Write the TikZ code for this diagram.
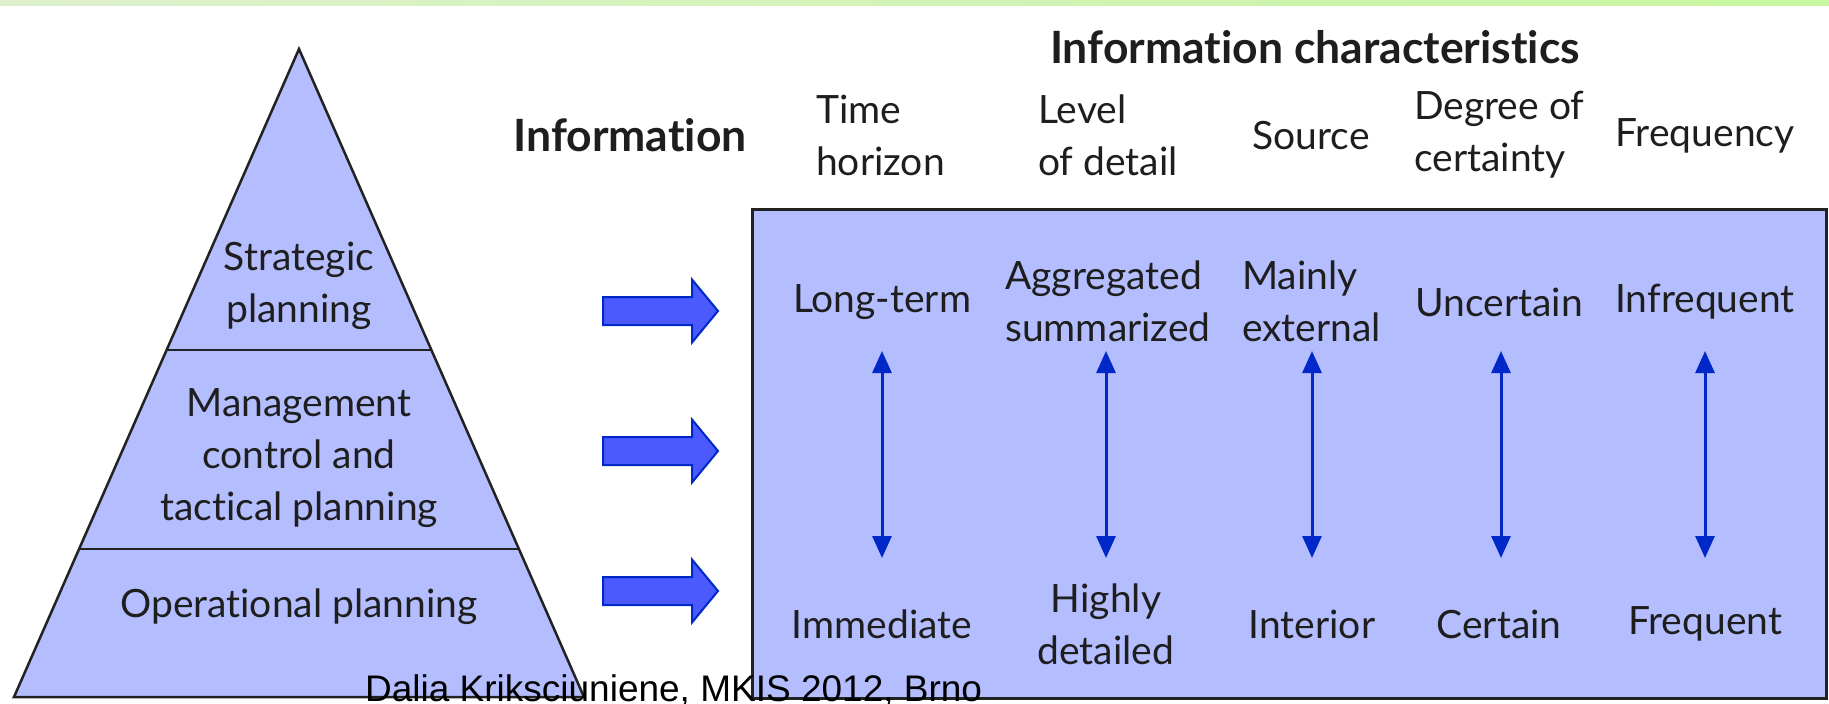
\documentclass[tikz,border=0pt]{standalone}
\usepackage{fontspec}
\setmainfont{Lato}[Ligatures=NoCommon]
\newfontfamily\footfont{Liberation Sans}
\usetikzlibrary{calc,arrows.meta}

\definecolor{panelfill}{RGB}{180,190,255}
\definecolor{edgegray}{RGB}{34,34,34}
\definecolor{txt}{RGB}{30,30,30}
\definecolor{arrowblue}{RGB}{0,40,200}
\definecolor{blockfill}{RGB}{74,90,255}
\definecolor{bandleft}{RGB}{222,240,205}
\definecolor{bandright}{RGB}{198,246,160}

\tikzset{
  lbl/.style={text=txt, inner sep=0pt, font=\fontsize{39}{52}\selectfont},
  head/.style={lbl, font=\fontsize{44.5}{52}\selectfont\bfseries},
  dblarrow/.style={draw=arrowblue, line width=3pt,
    {Triangle[width=19pt,length=22pt]}-{Triangle[width=19pt,length=22pt]}},
  blockarrow/.pic={
    \filldraw[fill=blockfill, draw=arrowblue, line width=2pt, line join=miter]
      (0,-14) -- (89,-14) -- (89,-31.5) -- (115,0) -- (89,31.5)
      -- (89,14) -- (0,14) -- cycle;
  }
}

\begin{document}
\begin{tikzpicture}[x=1pt, y=-1pt]
\useasboundingbox (0,0) rectangle (1829,704);

% light green band along the top edge
\shade[left color=bandleft, right color=bandright] (0,0) rectangle (1829,5);

% planning pyramid
\coordinate (apex) at (299,49);
\coordinate (bl) at (14,697);
\coordinate (br) at (584,697);
\filldraw[fill=panelfill, draw=edgegray, line width=2.5pt, line join=miter]
  (apex) -- (br) -- (bl) -- cycle;
\draw[edgegray, line width=2pt]
  ($(apex)!0.4645!(bl)$) -- ($(apex)!0.4645!(br)$);
\draw[edgegray, line width=2pt]
  ($(apex)!0.7716!(bl)$) -- ($(apex)!0.7716!(br)$);

\node[lbl, align=center] (strat) at (299,286) {Strategic\\planning};
\node[lbl, align=center] (mgmt) at (299,458) {Management\\control and\\tactical planning};
\node[lbl, align=center] (oper) at (299,607) {Operational planning};

% block arrows between the levels and the panel
\pic at (603,311) {blockarrow};
\pic at (603,451) {blockarrow};
\pic at (603,591) {blockarrow};

% characteristics panel
\filldraw[fill=panelfill, draw=edgegray, line width=3pt] (752,209) rectangle (1826,698);

% headings
\node[head] (infochar) at (1315,47) {Information characteristics};
\node[head] (info) at (630,135) {Information};
\node[lbl, align=left, anchor=west] (hTime) at (816,135) {Time\\horizon};
\node[lbl, align=left, anchor=west] (hLevel) at (1038,135) {Level\\of detail};
\node[lbl] (hSource) at (1311,136) {Source};
\node[lbl, align=left, anchor=west] (hDegree) at (1414,135) {Degree of\\certainty};
\node[lbl] (hFreq) at (1705,136) {Frequency};

% upper values
\node[lbl] (tTime) at (882,302) {Long-term};
\node[lbl, align=left, anchor=west] (tLevel) at (1005,301) {Aggregated\\summarized};
\node[lbl, align=left, anchor=west] (tSource) at (1242,301) {Mainly\\external};
\node[lbl] (tDegree) at (1499,302) {Uncertain};
\node[lbl] (tFreq) at (1705,302) {Infrequent};

% lower values
\node[lbl] (bTime) at (882,624) {Immediate};
\node[lbl, align=center] (bLevel) at (1106,624) {Highly\\detailed};
\node[lbl] (bSource) at (1312,624) {Interior};
\node[lbl] (bDegree) at (1499,624) {Certain};
\node[lbl] (bFreq) at (1705,624) {Frequent};

% two-headed range arrows
\foreach \n/\x in {1/882, 2/1106, 3/1312, 4/1501, 5/1705} {
  \coordinate (up\n) at (\x,351);
  \coordinate (dn\n) at (\x,558);
  \draw[dblarrow] (up\n) -- (dn\n);
}

% footer
\node[anchor=base west, inner sep=0pt, text=black,
  font=\footfont\fontsize{37}{40}\selectfont] (foot) at (365,701)
  {Dalia Kriksciuniene, MKIS 2012, Brno};
\end{tikzpicture}
\end{document}
